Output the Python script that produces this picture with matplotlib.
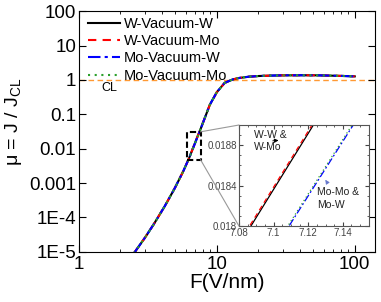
import numpy as np
import matplotlib
matplotlib.use('Agg')
import matplotlib.pyplot as plt
from matplotlib.patches import Rectangle, ConnectionPatch

plt.rcParams['font.family'] = ['Liberation Sans', 'DejaVu Sans']
plt.rcParams['mathtext.fontset'] = 'custom'
plt.rcParams['mathtext.rm'] = 'Liberation Sans'
plt.rcParams['mathtext.it'] = 'Liberation Sans:italic'

# field (V/nm) and normalised current density
mu = [8.97e-6, 2.52e-5, 6.47e-5, 2.15e-4, 7.14e-4, 2.17e-3, 5.35e-3, 0.0180, 0.0190,
      0.036, 0.080, 0.19, 0.44, 0.82, 1.03, 1.13, 1.24, 1.30, 1.34, 1.36,
      1.37, 1.365, 1.35, 1.31, 1.27]
F_ww = [2.5, 3.0, 3.5, 4.2, 4.96, 5.7, 6.3, 7.087, 7.123,
        7.6, 8.2, 8.9, 10.0, 11.4, 13.0, 14.3, 17.0, 20.0, 25.0, 30.0,
        40.0, 50.0, 60.0, 80.0, 100.0]
F_wmo = F_ww[:7] + [7.0862, 7.1222] + F_ww[9:]
F_mow = F_ww[:7] + [7.109, 7.146] + F_ww[9:]
F_momo = F_ww[:7] + [7.1083, 7.1453] + F_ww[9:]

series = [('W-Vacuum-W', F_ww, 'black', '-'),
          ('W-Vacuum-Mo', F_wmo, 'red', (0, (4, 3))),
          ('Mo-Vacuum-W', F_mow, 'blue', (0, (6, 2, 1.5, 2))),
          ('Mo-Vacuum-Mo', F_momo, '#2ca02c', (0, (1, 2.2)))]

ytick_vals = [1e-5, 1e-4, 1e-3, 1e-2, 0.1, 1, 10, 100]
ytick_labels = ['1E-5', '1E-4', '0.001', '0.01', '0.1', '1', '10', '100']
xtick_vals = [1, 10, 100]
xtick_labels = ['1', '10', '100']

fig = plt.figure(figsize=(3.81, 3.02), dpi=100)
ax = fig.add_axes([0.207, 0.166, 0.777, 0.797])

ax.axhline(1, color='#ff9933', ls=(0, (4, 2.5)), lw=1.0, zorder=1)
for name, F, c, ls in series:
    ax.plot(F, mu, color=c, ls=ls, lw=1.5, label=name)

ax.set_xscale('log')
ax.set_yscale('log')
ax.set_xlim(1, 140)
ax.set_ylim(1e-5, 100)
ax.set_yticks(ytick_vals)
ax.set_yticklabels(ytick_labels)
ax.set_xticks(xtick_vals)
ax.set_xticklabels(xtick_labels)
ax.tick_params(which='both', direction='in', top=True, right=True, labelsize=13.5)
ax.tick_params(which='major', length=5)
ax.tick_params(which='minor', length=2.5)
ax.tick_params(axis='y', pad=2)
ax.tick_params(axis='x', pad=3)
ax.set_xlabel('F(V/nm)', fontsize=15, labelpad=0)
ax.set_ylabel('μ = J / J$_{\\mathrm{CL}}$', fontsize=14, labelpad=1)
ax.yaxis.set_label_coords(-0.185, 0.54)

ax.text(1.45, 0.9, 'CL', fontsize=9, va='top', ha='left')

leg = ax.legend(loc='upper left', frameon=False, fontsize=10.5, handlelength=2.2,
                handletextpad=0.3, labelspacing=0.22, borderaxespad=0.0,
                bbox_to_anchor=(0.01, 1.0))

# dashed box marking the zoomed region
rect = Rectangle((6.03, 0.0048), 7.62 - 6.03, 0.031 - 0.0048, fill=False,
                 ec='black', ls=(0, (3, 1.5)), lw=1.5, zorder=5)
ax.add_patch(rect)

# inset
axi = fig.add_axes([0.627, 0.252, 0.341, 0.334])
for name, F, c, ls in series:
    axi.plot(F, mu, color=c, ls=ls, lw=0.9)
axi.set_xlim(7.08, 7.155)
axi.set_ylim(0.0180, 0.0190)
axi.set_xticks([7.08, 7.10, 7.12, 7.14])
axi.set_xticklabels(['7.08', '7.1', '7.12', '7.14'])
axi.set_yticks([0.0180, 0.0184, 0.0188])
axi.set_yticklabels(['0.018', '0.0184', '0.0188'])
axi.minorticks_on()
axi.tick_params(which='both', direction='in', top=True, right=True, labelsize=7,
                colors='#444444', pad=1.5)
axi.tick_params(which='major', length=3)
axi.tick_params(which='minor', length=1.5)
for s in axi.spines.values():
    s.set_color('#555555')
    s.set_linewidth(0.8)

axi.annotate('W-W &\nW-Mo', xy=(7.1045, 0.01885), xytext=(7.0885, 0.01875),
             fontsize=7.5, color='#222222', linespacing=1.3,
             arrowprops=dict(arrowstyle='-|>', color='black', lw=0.6,
                             mutation_scale=6))
axi.annotate('Mo-Mo &\nMo-W', xy=(7.129, 0.01848), xytext=(7.125, 0.01818),
             fontsize=7.5, color='#222222', linespacing=1.3,
             arrowprops=dict(arrowstyle='-|>', color='#6677cc', lw=0.6,
                             mutation_scale=6))

for yb, ya in [(0.031, 1.0), (0.0048, 0.0)]:
    con = ConnectionPatch(xyA=(7.62, yb), coordsA=ax.transData,
                          xyB=(0.0, ya), coordsB=axi.transAxes,
                          color='#999999', lw=0.8)
    fig.add_artist(con)

fig.savefig('out.png', dpi=100)
